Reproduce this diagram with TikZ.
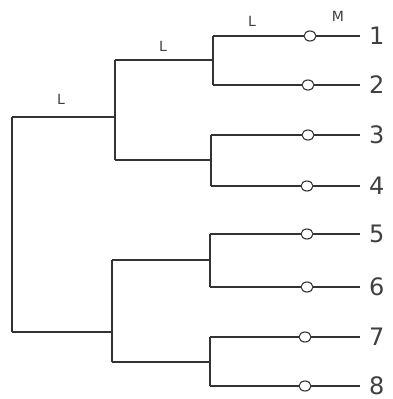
\documentclass[tikz,border=0pt]{standalone}
\usepackage{fontspec}
\setsansfont{DejaVu Sans}
\usetikzlibrary{shapes.geometric}
\begin{document}
\begin{tikzpicture}[x=1pt,y=-1pt,
  line/.style={draw=black!80,line width=1.1pt},
  leafcirc/.style={draw=black!80,line width=1.1pt,fill=white,ellipse,minimum width=12pt,minimum height=10pt,inner sep=0pt},
  num/.style={font=\sffamily\fontsize{24}{24}\selectfont,text=black!75,inner sep=0pt,text height=17pt,text depth=0pt},
  lab/.style={font=\sffamily\fontsize{14}{14}\selectfont,text=black!75,inner sep=0pt}]
\useasboundingbox (0,0) rectangle (392,399);
% junction coordinates
\coordinate (r) at (12,117);
\coordinate (rb) at (12,332);
\coordinate (a) at (115,117);
\coordinate (at) at (115,60);
\coordinate (ab) at (115,160);
\coordinate (b) at (112,332);
\coordinate (bt) at (112,260);
\coordinate (bb) at (112,362);
% leaf ends
\foreach \i/\y/\x in {1/36/213,2/85/213,3/135/211,4/186/211,5/234/210,6/287/210,7/337/210,8/386/210}{
  \coordinate (s\i) at (\x,\y);
  \coordinate (e\i) at (360,\y);
  \node[num,anchor=west] (n\i) at (369,\y) {\i};
}
% tree
\draw[line] (r) -- (rb);
\draw[line] (r) -- (a);
\draw[line] (rb) -- (b);
\draw[line] (at) -- (ab);
\draw[line] (bt) -- (bb);
\draw[line] (at) -- (213,60) coordinate (j1);
\draw[line] (ab) -- (211,160) coordinate (j2);
\draw[line] (bt) -- (210,260) coordinate (j3);
\draw[line] (bb) -- (210,362) coordinate (j4);
\draw[line] (s1) -- (s2);
\draw[line] (s3) -- (s4);
\draw[line] (s5) -- (s6);
\draw[line] (s7) -- (s8);
\foreach \i in {1,...,8}{
  \draw[line] (s\i) -- (e\i);
}
\foreach \i/\x in {1/310,2/308,3/308,4/307,5/307,6/307,7/305,8/305}{
  \node[leafcirc] (c\i) at (\x,0 |- s\i) {};
}
% labels
\node[lab] (l1) at (61,99) {L};
\node[lab] (l2) at (163,46) {L};
\node[lab] (l3) at (252,21) {L};
\node[lab] (m) at (338,16) {M};
\end{tikzpicture}
\end{document}
